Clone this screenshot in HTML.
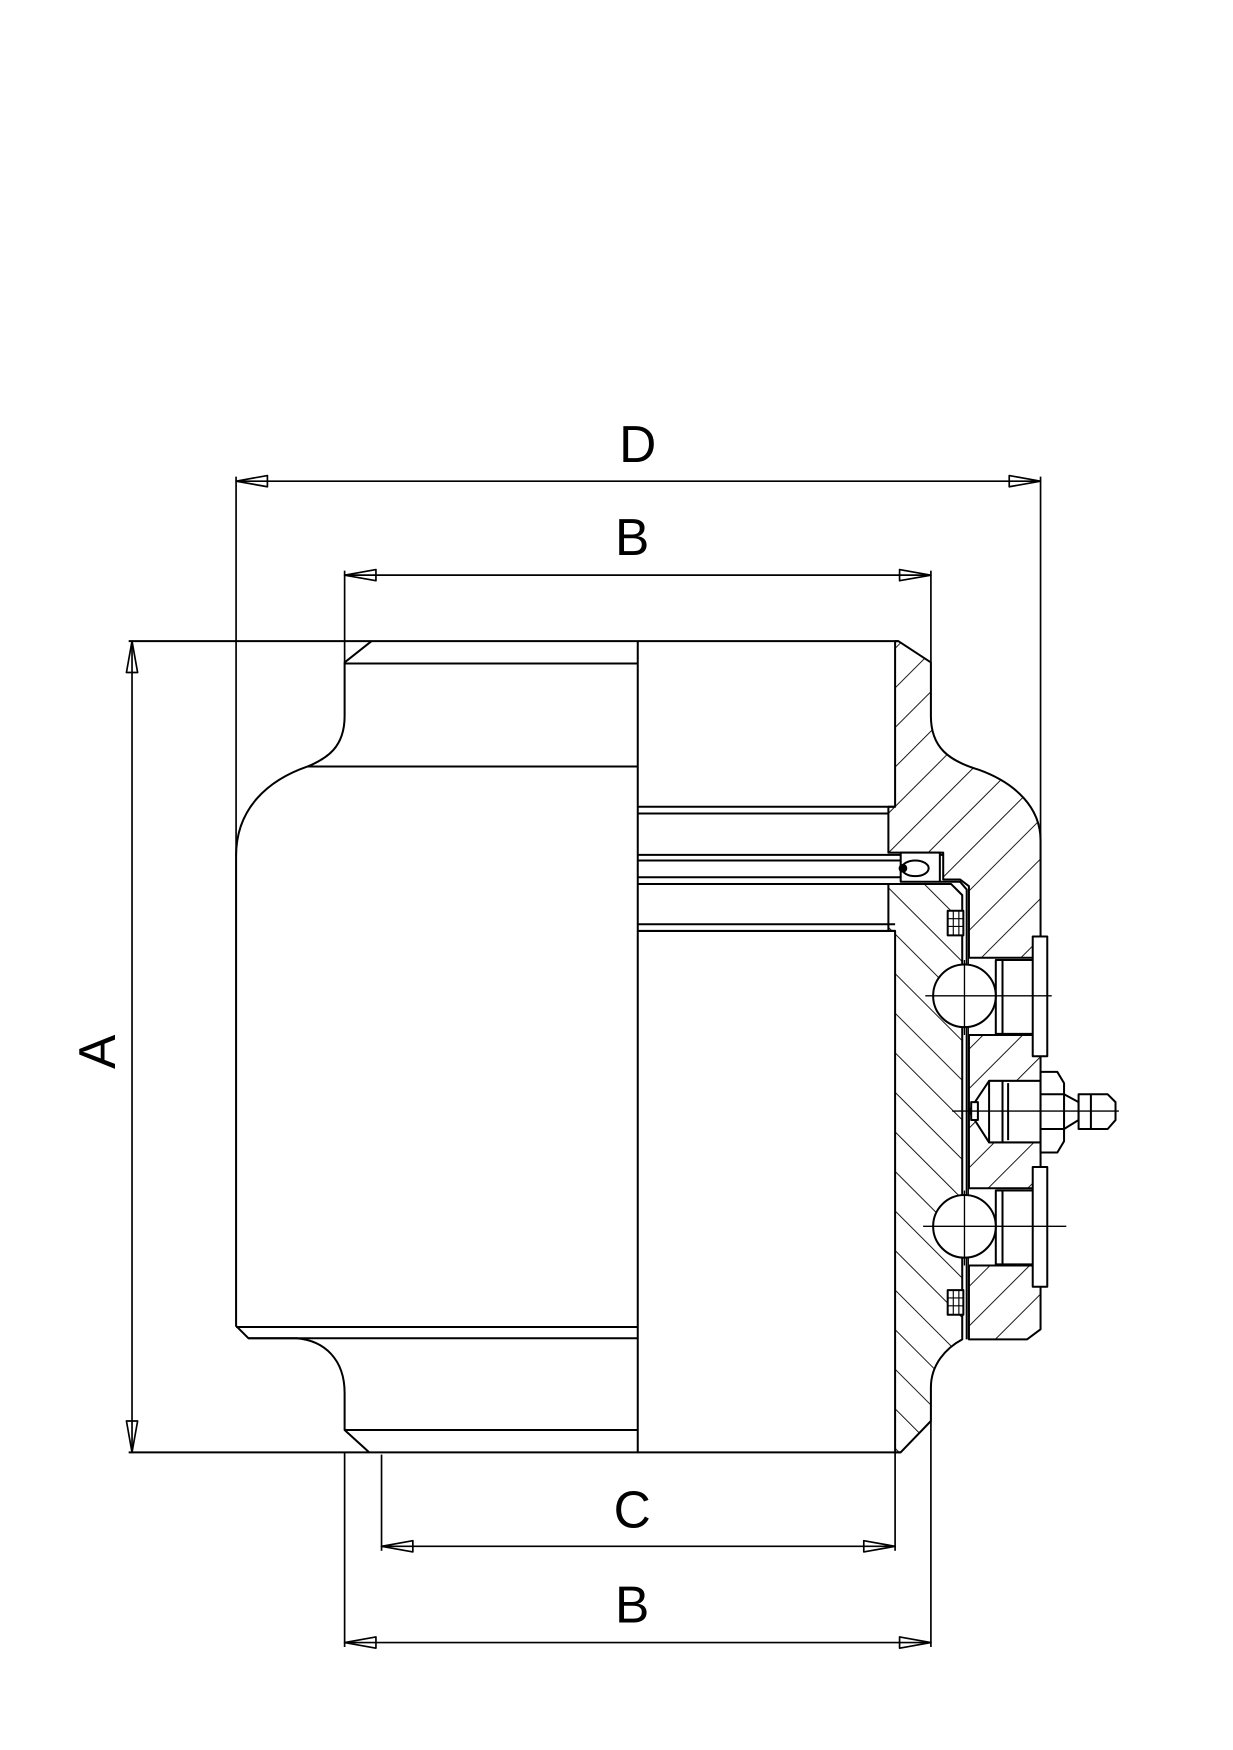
<!DOCTYPE html>
<html><head><meta charset="utf-8"><style>html,body{margin:0;padding:0;background:#fff}svg{display:block}</style></head>
<body>
<svg width="1233" height="1750" viewBox="0 0 1102 1564" xmlns="http://www.w3.org/2000/svg">
<defs>
<pattern id="hf" patternUnits="userSpaceOnUse" width="25" height="25" patternTransform="rotate(45)"><line x1="0" y1="0" x2="0" y2="25" stroke="#000" stroke-width="1.6"/></pattern>
<pattern id="hb" patternUnits="userSpaceOnUse" width="25" height="25" patternTransform="rotate(-45)"><line x1="0" y1="0" x2="0" y2="25" stroke="#000" stroke-width="1.6"/></pattern>
</defs>
<g fill="none" stroke="#000" stroke-width="1.8" stroke-linejoin="round">
<!-- hatched pieces -->
<path d="M800,573 L803,573 L832,592 L832,640 C832,668 848,680 875,688 C908,700 930,722 930,751 L930,1188 L918,1197 L866,1197 L866,792 L858,786 L843,786 L843,762 L794,762 L794,721 L800,721 Z" fill="url(#hf)"/>
<path d="M794,790 L850,790 L860,800 L860,1197 C845,1205 832,1220 832,1240 L832,1270 L805,1298 L800,1298 L800,832 L794,832 Z" fill="url(#hb)"/>
<!-- left body -->
<line x1="115" y1="573" x2="803" y2="573"/>
<line x1="115" y1="1298" x2="805" y2="1298"/>
<line x1="570" y1="573" x2="570" y2="1298"/>
<path d="M332,573 L308,592 L308,640 C308,668 292,678 275,685 C240,697 211,722 211,765 L211,1185 L222,1196 L265,1196 C290,1198 308,1215 308,1245 L308,1278 L330,1298"/>
<line x1="308" y1="593" x2="570" y2="593"/>
<line x1="275" y1="685" x2="570" y2="685"/>
<line x1="211" y1="1186" x2="570" y2="1186"/>
<line x1="222" y1="1196" x2="570" y2="1196"/>
<line x1="308" y1="1278" x2="570" y2="1278"/>
<!-- inner lines -->
<line x1="570" y1="721" x2="800" y2="721"/>
<line x1="570" y1="727" x2="794" y2="727"/>
<line x1="570" y1="764" x2="843" y2="764"/>
<line x1="570" y1="769" x2="805" y2="769"/>
<line x1="570" y1="784" x2="805" y2="784"/>
<line x1="570" y1="790" x2="850" y2="790"/>
<line x1="570" y1="826" x2="800" y2="826"/>
<line x1="570" y1="832" x2="800" y2="832"/>
<path d="M805,762 L840,762 L840,788 L805,788 Z" fill="#fff"/>
<ellipse cx="818" cy="776" rx="12" ry="7" fill="#fff"/>
<circle cx="807" cy="776" r="3" fill="#000"/>
<path d="M840,788 L858,788 L864,795 L864,1197"/>
<!-- gaskets -->
<rect x="847" y="814" width="14" height="22" fill="#fff"/>
<path d="M847,821 H861 M847,828 H861 M852,814 V836 M857,814 V836" stroke-width="1"/>
<rect x="847" y="1153" width="14" height="22" fill="#fff"/>
<path d="M847,1160 H861 M847,1167 H861 M852,1153 V1175 M857,1153 V1175" stroke-width="1"/>
<!-- bolts -->
<g>
<rect x="866" y="856" width="58" height="69" fill="#fff" stroke="none"/>
<line x1="866" y1="856" x2="924" y2="856"/><line x1="866" y1="925" x2="924" y2="925"/>
<rect x="890" y="858" width="34" height="66" fill="#fff"/><line x1="896" y1="858" x2="896" y2="924"/>
<ellipse cx="862" cy="890" rx="28" ry="28" fill="#fff"/>
<rect x="923" y="837" width="13" height="107" fill="#fff"/>
<line x1="827" y1="890" x2="940" y2="890" stroke-width="1.2"/>
<line x1="862" y1="858" x2="862" y2="925" stroke-width="1.2"/>
</g>
<g>
<rect x="866" y="1062" width="58" height="69" fill="#fff" stroke="none"/>
<line x1="866" y1="1062" x2="924" y2="1062"/><line x1="866" y1="1131" x2="924" y2="1131"/>
<rect x="890" y="1064" width="34" height="66" fill="#fff"/><line x1="896" y1="1064" x2="896" y2="1130"/>
<ellipse cx="862" cy="1096" rx="28" ry="28" fill="#fff"/>
<rect x="923" y="1043" width="13" height="107" fill="#fff"/>
<line x1="825" y1="1096" x2="953" y2="1096" stroke-width="1.2"/>
<line x1="862" y1="1064" x2="862" y2="1131" stroke-width="1.2"/>
</g>
<!-- grease nipple -->
<path d="M866,993 L884,966 L930,966 L930,1021 L884,1021 Z" fill="#fff"/>
<rect x="884" y="966" width="46" height="55" fill="#fff"/>
<line x1="896" y1="966" x2="896" y2="1021"/><line x1="901" y1="968" x2="901" y2="1019"/>
<rect x="868" y="985" width="6" height="16" fill="#fff"/>
<path d="M930,958 L945,958 L951,968 L951,1020 L945,1030 L930,1030 Z" fill="#fff"/>
<path d="M930,978 H951 M930,1009 H951"/>
<path d="M951,978 L964,985 L964,1001 L951,1009"/>
<path d="M964,978 L990,978 L997,985 L997,1001 L990,1009 L964,1009 Z" fill="#fff"/>
<line x1="975" y1="978" x2="975" y2="1009"/>
<line x1="851" y1="993" x2="1000" y2="993" stroke-width="1.2"/>
<!-- dimensions -->
<g stroke-width="1.5">
<line x1="211" y1="430" x2="930" y2="430"/>
<line x1="211" y1="426" x2="211" y2="765"/>
<line x1="930" y1="426" x2="930" y2="751"/>
<line x1="308" y1="514" x2="832" y2="514"/>
<line x1="308" y1="510" x2="308" y2="592"/>
<line x1="832" y1="510" x2="832" y2="592"/>
<line x1="118" y1="573" x2="118" y2="1298"/>
<line x1="341" y1="1300" x2="341" y2="1386"/>
<line x1="800" y1="1298" x2="800" y2="1386"/>
<line x1="341" y1="1382" x2="800" y2="1382"/>
<line x1="308" y1="1298" x2="308" y2="1472"/>
<line x1="832" y1="1270" x2="832" y2="1472"/>
<line x1="308" y1="1468" x2="832" y2="1468"/>
<path d="M211,430 L239,425 L239,435 Z M930,430 L902,425 L902,435 Z"/>
<path d="M308,514 L336,509 L336,519 Z M832,514 L804,509 L804,519 Z"/>
<path d="M118,573 L113,601 L123,601 Z M118,1298 L113,1270 L123,1270 Z"/>
<path d="M341,1382 L369,1377 L369,1387 Z M800,1382 L772,1377 L772,1387 Z"/>
<path d="M308,1468 L336,1463 L336,1473 Z M832,1468 L804,1463 L804,1473 Z"/>
</g>
</g>
<g font-family="Liberation Sans, sans-serif" font-size="46" text-anchor="middle" fill="#000">
<text x="570" y="413">D</text>
<text x="565" y="496">B</text>
<text x="565" y="1365">C</text>
<text x="565" y="1450">B</text>
<text x="0" y="0" transform="translate(103,940) rotate(-90)">A</text>
</g>
</svg>
</body></html>
